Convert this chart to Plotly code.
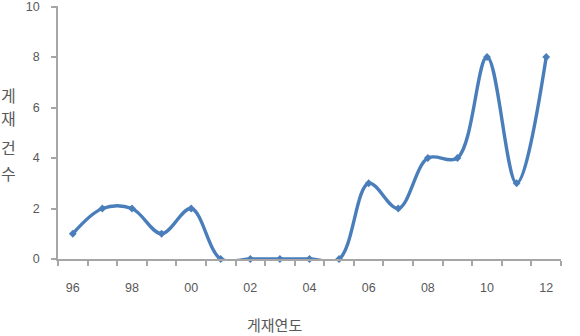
import plotly.graph_objects as go

years = ["96", "97", "98", "99", "00", "01", "02", "03", "04", "05",
         "06", "07", "08", "09", "10", "11", "12"]
counts = [1, 2, 2, 1, 2, 0, 0, 0, 0, 0, 3, 2, 4, 4, 8, 3, 8]
y_ticks = [0, 2, 4, 6, 8, 10]
x_title = "게재연도"
y_title = "게재건수"

idx = list(range(len(years)))
label_vals = [i for i in idx if i % 2 == 0]
label_text = [years[i] for i in label_vals]

color = "#4a7ebb"
gray = "#595959"
axis_gray = "#a6a6a6"

fig = go.Figure()
fig.add_trace(go.Scatter(
    x=idx, y=counts, mode="lines+markers",
    line=dict(color=color, width=3.4, shape="spline", smoothing=1.0),
    marker=dict(symbol="diamond", size=6, color=color),
    showlegend=False, cliponaxis=False,
))

top_m, bot_m = 6, 77
plot_h = 336 - top_m - bot_m

fig.update_layout(
    width=580, height=336,
    margin=dict(l=58, r=19, t=top_m, b=bot_m, autoexpand=False),
    paper_bgcolor="white", plot_bgcolor="white",
    font=dict(family="Liberation Sans, DejaVu Sans, sans-serif", color=gray, size=12),
    xaxis=dict(
        range=[-0.5, len(years) - 0.5], automargin=False,
        tickvals=label_vals, ticktext=label_text,
        ticks="", showgrid=False, zeroline=False,
        showline=True, linecolor=axis_gray, linewidth=1.5,
        ticklabelstandoff=16,
        tickfont=dict(size=12.5, color=gray),
        minor=dict(tickvals=[i - 0.5 for i in range(len(years) + 1)],
                   ticks="outside", ticklen=5, tickcolor=axis_gray, tickwidth=1.5,
                   showgrid=False),
    ),
    yaxis=dict(
        range=[0, 10.02], tickvals=y_ticks, automargin=False,
        ticks="outside", ticklen=5, tickcolor=axis_gray, tickwidth=1.5,
        showgrid=False, zeroline=False,
        showline=True, linecolor=axis_gray, linewidth=1.5,
        ticklabelstandoff=9, ticklabeloverflow="allow",
        tickfont=dict(size=12.5, color=gray),
    ),
)

# vertical stacked y-axis title (one character per line)
char_px = [95, 118, 147, 173]
for ch, py in zip(y_title, char_px):
    fig.add_annotation(
        text=ch, xref="paper", yref="paper",
        x=0, xshift=-50, y=(336 - bot_m - py) / plot_h,
        xanchor="center", yanchor="middle", showarrow=False,
        font=dict(size=16, color=gray, family="Noto Sans CJK KR, sans-serif"),
    )

fig.add_annotation(
    text=x_title, xref="paper", yref="paper",
    x=0.43, y=0, yshift=-65, xanchor="center", yanchor="middle",
    showarrow=False, font=dict(size=15, color=gray,
                               family="Noto Sans CJK KR, sans-serif"),
)

fig.write_html("out.html")
